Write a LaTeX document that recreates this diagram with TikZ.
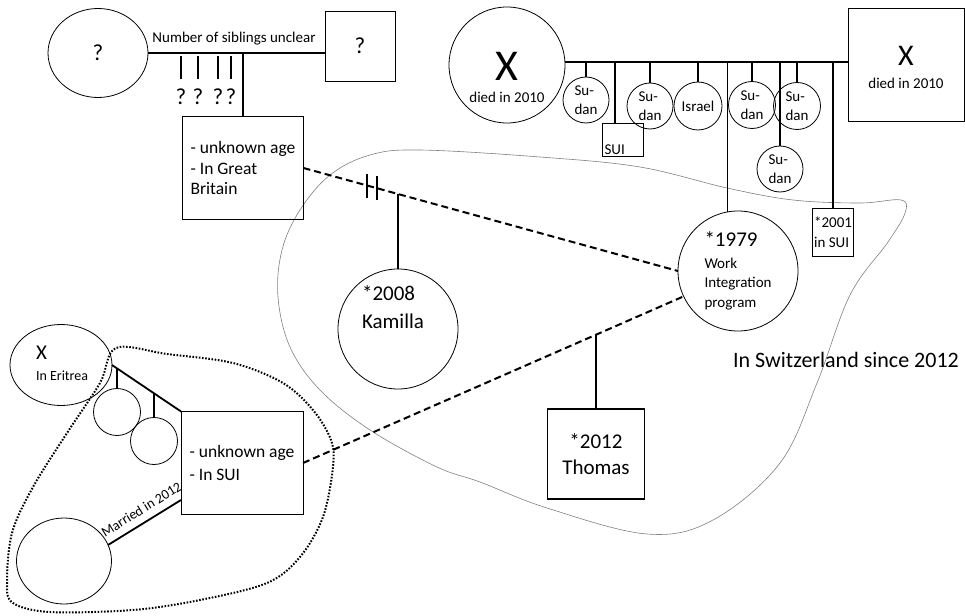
\documentclass[tikz,border=0pt]{standalone}
\usepackage{fontspec}
\setmainfont{Carlito}
\usetikzlibrary{arrows.meta, positioning, shapes.geometric, calc}

\newcommand{\sizeT}{\fontsize{14}{17}\selectfont}
\newcommand{\sizeS}{\fontsize{15}{19.5}\selectfont}
\newcommand{\sizeM}{\fontsize{17.5}{20.5}\selectfont}
\newcommand{\sizeL}{\fontsize{21}{26}\selectfont}
\newcommand{\sizeQ}{\fontsize{23}{26}\selectfont}

\begin{document}
\begin{tikzpicture}[
  x=1pt, y=-1pt,
  every node/.style={font=\sizeS, align=center, inner sep=0pt, outer sep=0pt},
  fem/.style   ={circle, draw, line width=0.8pt},
  oval/.style  ={ellipse, draw, line width=0.8pt},
  mal/.style   ={rectangle, draw, line width=0.8pt},
  kin/.style   ={line width=1.8pt},
  exlink/.style={line width=2pt, dash pattern=on 7pt off 4pt},
  swiss/.style ={gray, line width=0.6pt},
  camp/.style  ={line width=2pt, dash pattern=on 1.6pt off 1.6pt}
]
\useasboundingbox (0,0) rectangle (965,615);

%% Hulls (drawn first, behind everything)
\draw[swiss] plot[smooth cycle, tension=0.6] coordinates {
  (420,150) (540,157) (640,167) (727,188) (793,200) (860,203) (901,200)
  (905,213) (888,242) (850,295) (817,383) (780,463) (713,520) (647,534)
  (547,508) (480,482) (437,467) (370,430) (320,390) (290,347) (278,297)
  (282,250) (300,210) (330,175) (370,155)};
\draw[camp] plot[smooth cycle, tension=0.55] coordinates {
  (116,348) (167,354) (233,363) (283,383) (313,410) (331,440) (333,467)
  (323,517) (300,557) (267,583) (200,600) (133,610) (50,612) (13,603)
  (7,583) (12,533) (33,487) (67,433) (100,383)};

%% Top left: parents of the first partner
\node[oval, minimum width=100pt, minimum height=89pt, font=\sizeQ] (gm) at (98,53) {?};
\node[mal, minimum size=70pt, font=\sizeQ] (gf) at (360,46) {?};
\draw[kin] (gm.east) -- (gm.east -| gf.west);
\node (sibtx) at (234,39) {Number of siblings unclear};

\foreach \n/\x in {1/181,2/198,3/218,4/231}{
  \node[font=\sizeQ] (q\n) at (\x,97) {?};
  \draw[kin] (q\n.north) ++(0,-10) -- ++(0,-23);
}

\node[mal, minimum width=121pt, minimum height=103pt, align=left, font=\sizeM] (gb)
  at (243,168) {- unknown age\\- In Great\\Britain};
\draw[kin] (gb.north) -- (gb.north |- gm.east);

%% Top right: parents of the index person
\node[fem, minimum size=116pt] (pgm) at (507,65) {};
\node[font=\fontsize{44}{44}\selectfont] (pgmx) at (507,66) {X};
\node (pgmt) at (507,97) {died in 2010};
\node[mal, minimum width=116pt, minimum height=113pt] (pgf) at (906,65) {};
\node[font=\fontsize{30}{30}\selectfont] (pgfx) at (906,56) {X};
\node (pgft) at (906,83) {died in 2010};
\draw[kin] (pgm.3) -- (pgm.3 -| pgf.west);

%% Siblings of the index person
\node[fem, minimum size=46pt, align=left] (sd1) at (586,100) {Su-\\dan};
\node[mal, minimum width=41pt, minimum height=33pt] (sui) at (623,140) {};
\node[anchor=south west, inner sep=2pt] (suitx) at (sui.south west) {SUI};
\node[fem, minimum size=46pt, align=left] (sd2) at (650,106) {Su-\\dan};
\node[fem, minimum size=48pt] (isr) at (698,106) {Israel};
\node[fem, minimum size=47pt, align=left] (sd3) at (752,105) {Su-\\dan};
\node[fem, minimum size=47pt, align=left] (sd4) at (797,106) {Su-\\dan};
\node[fem, minimum size=46pt, align=left] (sd5) at (780,169) {Su-\\dan};
\node[mal, minimum width=41pt, minimum height=48pt, align=left, inner sep=1pt] (b01)
  at (833,232) {*2001\\in SUI};

%% Index person
\node[fem, minimum size=120pt, align=left] (ego) at (738,271)
  {{\sizeL *1979}\\[2pt]Work\\Integration\\program};

\foreach \c in {sd1,sd2,isr,sd3,sd4,sd5,b01}{
  \draw[kin] (\c.north) -- (\c.north |- pgm.3);
}
\draw[kin] ([xshift=-8pt]sui.north) -- ([xshift=-8pt]sui.north |- pgm.3);
\draw[kin] (ego.100) -- (ego.100 |- pgm.3);

%% Children
\node[fem, minimum size=120pt] (kam) at (398,329) {};
\node[font=\sizeL, align=left] (kamtx) at (393,307) {*2008\\[2pt]Kamilla};
\node[mal, line width=1.6pt, minimum width=97pt, minimum height=90pt, font=\sizeL] (tho)
  at (596,454) {*2012\\Thomas};

%% Bottom left: second partner and her family
\node[oval, minimum width=102pt, minimum height=81pt] (eri) at (61,365) {};
\node[anchor=west, font=\fontsize{21}{21}\selectfont] (erix) at (36,353) {X};
\node[anchor=west, font=\sizeT] (eritx) at (36,376) {In Eritrea};
\node[fem, minimum size=47pt] (sc1) at (117,412) {};
\node[fem, minimum size=47pt] (sc2) at (154,441) {};
\node[mal, minimum width=122pt, minimum height=103pt, align=left, font=\sizeM] (sui2)
  at (242,463) {- unknown age\\[2.5pt]- In SUI};
\node[oval, minimum width=95pt, minimum height=86pt] (sp) at (64,561) {};

\draw[kin] (eri.east) -- (sui2.north west);
\draw[kin] (sc1.north) -- (intersection of eri.east--sui2.north west and sc1.north--sc1.south);
\draw[kin] (sc2.north) -- (intersection of eri.east--sui2.north west and sc2.north--sc2.south);
\draw[kin] (sp.20) -- ([yshift=-37pt]sui2.west)
  node[pos=0.55, above=8pt, sloped, font=\sizeT] (martx) {Married in 2012};

%% Partnerships (dashed), separation mark and descent
\draw[exlink] (gb.east) -- (ego.west);
\draw[exlink] (sui2.east) -- (ego.205);
\draw[kin] ($(gb.east)!0.17!(ego.west)$) ++(0,-12) -- ++(0,24);
\draw[kin] ($(gb.east)!0.197!(ego.west)$) ++(0,-12) -- ++(0,24);
\draw[kin] (kam.north) -- (intersection of gb.east--ego.west and kam.north--kam.south);
\draw[kin] (tho.north) -- (intersection of sui2.east--ego.205 and tho.north--tho.south);

\node[font=\fontsize{22}{26}\selectfont] (chtx) at (846,360) {In Switzerland since 2012};

\end{tikzpicture}
\end{document}
